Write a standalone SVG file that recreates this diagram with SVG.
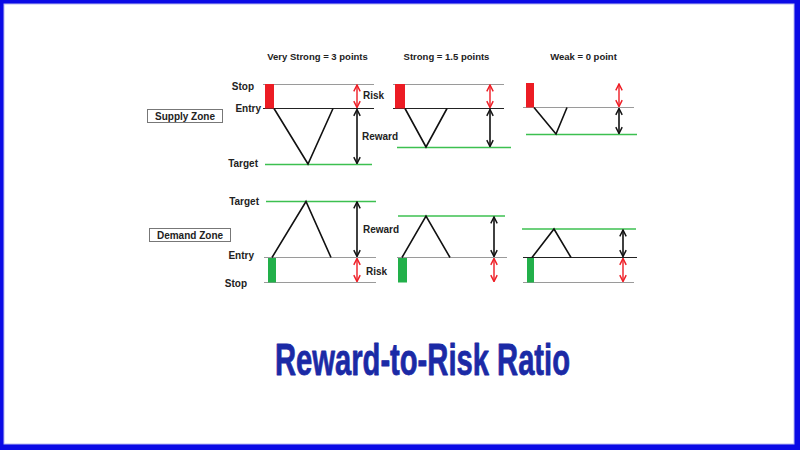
<svg xmlns="http://www.w3.org/2000/svg" width="800" height="450" viewBox="0 0 800 450">
<style>
.lbl{font-family:"Liberation Sans",Arial,sans-serif;font-weight:bold;font-size:10px;fill:#222}
.hdr{font-family:"Liberation Sans",Arial,sans-serif;font-weight:bold;font-size:9.5px;fill:#222}
.gray{stroke:#9a9a9a;stroke-width:1;fill:none}
.blk{stroke:#222;stroke-width:1;fill:none}
.grn{stroke:#3cc050;stroke-width:1.6;fill:none}
.pk{stroke:#111;stroke-width:1.6;fill:none;stroke-linejoin:miter}
.ak{stroke:#111;stroke-width:1.6;marker-start:url(#hk);marker-end:url(#hk)}
.ar{stroke:#ee1c24;stroke-width:1.4;marker-start:url(#hr);marker-end:url(#hr)}
.rr{fill:#ec1c24}
.gr{fill:#22b04a}
.box{fill:#fff;stroke:#777;stroke-width:1}
.ttl{font-family:"Liberation Sans",Arial,sans-serif;font-weight:bold;font-size:44px;fill:#1b2aa6;stroke:#1b2aa6;stroke-width:0.8;stroke-linejoin:round}
</style>
<defs>
<marker id="hk" viewBox="0 0 10 10" refX="9" refY="5" markerWidth="8" markerHeight="8" markerUnits="userSpaceOnUse" orient="auto-start-reverse"><path d="M1,1 L9,5 L1,9" fill="none" stroke="#111" stroke-width="1.8"/></marker>
<marker id="hr" viewBox="0 0 10 10" refX="9" refY="5" markerWidth="8" markerHeight="8" markerUnits="userSpaceOnUse" orient="auto-start-reverse"><path d="M1,1 L9,5 L1,9" fill="none" stroke="#ee1c24" stroke-width="1.8"/></marker>
</defs>
<rect x="0" y="0" width="800" height="450" fill="#0a0ae6"/>
<rect x="4" y="4" width="790" height="440" fill="#fff" stroke="#b8b8f0" stroke-width="1"/>

<g id="headers">
<text class="hdr" x="317.5" y="60" text-anchor="middle">Very Strong = 3 points</text>
<text class="hdr" x="446.5" y="60" text-anchor="middle">Strong = 1.5 points</text>
<text class="hdr" x="583.5" y="60" text-anchor="middle">Weak = 0 point</text>
</g>

<g id="supply-zone">
<rect class="box" x="147.5" y="109.5" width="75" height="13"/>
<text class="lbl" x="185" y="119.5" text-anchor="middle">Supply Zone</text>
</g>
<g id="demand-zone">
<rect class="box" x="149.5" y="228.5" width="81" height="13"/>
<text class="lbl" x="190" y="238.5" text-anchor="middle">Demand Zone</text>
</g>

<g id="supply-labels">
<text class="lbl" x="254" y="89.5" text-anchor="end">Stop</text>
<text class="lbl" x="261" y="111.5" text-anchor="end">Entry</text>
<text class="lbl" x="258" y="166.5" text-anchor="end">Target</text>
<text class="lbl" x="363" y="98.5">Risk</text>
<text class="lbl" x="362" y="139.5">Reward</text>
</g>
<g id="demand-labels">
<text class="lbl" x="259" y="204.5" text-anchor="end">Target</text>
<text class="lbl" x="254" y="258.5" text-anchor="end">Entry</text>
<text class="lbl" x="247" y="286.5" text-anchor="end">Stop</text>
<text class="lbl" x="363" y="232.5">Reward</text>
<text class="lbl" x="366" y="274.5">Risk</text>
</g>

<g id="supply-very-strong">
<line class="gray" x1="263" y1="84.5" x2="374" y2="84.5"/>
<line class="blk" x1="263" y1="108.5" x2="374" y2="108.5"/>
<line class="grn" x1="265" y1="164.5" x2="372" y2="164.5"/>
<rect class="rr" x="265" y="84" width="9" height="24.5"/>
<polyline class="pk" points="274,108.5 308,164 333,108.5"/>
</g>
<g id="supply-strong">
<line class="gray" x1="393" y1="84.5" x2="504" y2="84.5"/>
<line class="blk" x1="393" y1="108.5" x2="504" y2="108.5"/>
<line class="grn" x1="397" y1="147.5" x2="511" y2="147.5"/>
<rect class="rr" x="395" y="84" width="10" height="24.5"/>
<polyline class="pk" points="405,108.5 426,147 447,108.5"/>
</g>
<g id="supply-weak">
<line class="gray" x1="523" y1="107.5" x2="634" y2="107.5"/>
<line class="grn" x1="526" y1="134.5" x2="637" y2="134.5"/>
<rect class="rr" x="526" y="83" width="8" height="24.5"/>
<polyline class="pk" points="534,107.5 556,134 567,107.5"/>
</g>

<g id="demand-very-strong">
<line class="grn" x1="266" y1="201.5" x2="376" y2="201.5"/>
<line class="gray" x1="264" y1="257.5" x2="376" y2="257.5"/>
<line class="gray" x1="264" y1="282.5" x2="376" y2="282.5"/>
<rect class="gr" x="268" y="258" width="8" height="24.5"/>
<polyline class="pk" points="272,257.5 306,201.5 331,257.5"/>
</g>
<g id="demand-strong">
<line class="grn" x1="398" y1="216" x2="505" y2="216"/>
<line class="gray" x1="397" y1="257.5" x2="507" y2="257.5"/>
<rect class="gr" x="398" y="258" width="9" height="24.5"/>
<polyline class="pk" points="402,257.5 426,216 450,257.5"/>
</g>
<g id="demand-weak">
<line class="grn" x1="522" y1="229" x2="636" y2="229"/>
<line class="blk" x1="523" y1="257.5" x2="637" y2="257.5"/>
<line class="gray" x1="523" y1="282.5" x2="634" y2="282.5"/>
<rect class="gr" x="527" y="258" width="7" height="24.5"/>
<polyline class="pk" points="532,257.5 554,229 571,257.5"/>
</g>

<g id="connectors">
<line class="ar" x1="357" y1="85" x2="357" y2="107.5"/>
<line class="ak" x1="357" y1="109.5" x2="357" y2="163.5"/>
<line class="ar" x1="490" y1="85" x2="490" y2="107.5"/>
<line class="ak" x1="490" y1="109.5" x2="490" y2="146.5"/>
<line class="ar" x1="619" y1="84" x2="619" y2="106.5"/>
<line class="ak" x1="619" y1="108.5" x2="619" y2="133.5"/>
<line class="ak" x1="357" y1="202" x2="357" y2="256.5"/>
<line class="ar" x1="357" y1="258.5" x2="357" y2="281.5"/>
<line class="ak" x1="494" y1="217" x2="494" y2="256.5"/>
<line class="ar" x1="494" y1="258.5" x2="494" y2="281.5"/>
<line class="ak" x1="623" y1="230" x2="623" y2="256.5"/>
<line class="ar" x1="623" y1="258.5" x2="623" y2="281.5"/>
</g>

<g id="title">
<text class="ttl" x="275" y="375" textLength="295" lengthAdjust="spacingAndGlyphs">Reward-to-Risk Ratio</text>
</g>
</svg>
